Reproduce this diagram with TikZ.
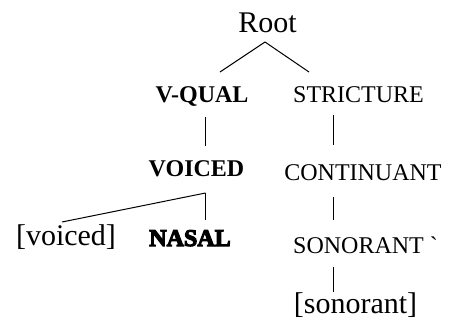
\documentclass[tikz,border=0pt]{standalone}
\usepackage{fontspec}
\setmainfont{Liberation Serif}
\newcommand{\heavytext}[1]{\special{pdf:literal direct 2 Tr 1.1 w}#1\special{pdf:literal direct 0 Tr}}
\begin{document}
\begin{tikzpicture}[x=1pt,y=-1pt,
  big/.style={font=\fontsize{30}{30}\selectfont, inner sep=0pt, anchor=base},
  capl/.style={font=\fontsize{24}{24}\selectfont, inner sep=0pt, anchor=base},
  bcapl/.style={font=\fontsize{24}{24}\selectfont\bfseries, inner sep=0pt, anchor=base},
  link/.style={line width=1pt}]
\useasboundingbox (0,0) rectangle (450,330);
\node[big] (root) at (267.5,32) {Root};
\node[bcapl] (vqual) at (202,102) {V-QUAL};
\node[capl] (stric) at (358.5,102) {STRICTURE};
\node[bcapl] (voiced) at (196.5,176) {VOICED};
\node[capl] (cont) at (363,180) {CONTINUANT};
\node[big] (vb) at (66,245) {[voiced]};
\node[bcapl] (nasal) at (190,246) {\heavytext{NASAL}};
\node[capl, anchor=base west] (son) at (293,253) {SONORANT \textasciigrave};
\node[big] (sb) at (355.5,313) {[sonorant]};
\draw[link] ([shift={(-2.5,10)}]root.base) -- ([shift={(18,-30)}]vqual.base);
\draw[link] ([shift={(-2.5,10)}]root.base) -- ([shift={(-49.5,-30)}]stric.base);
\draw[link] ([shift={(3.5,15)}]vqual.base) -- ([shift={(9,-30)}]voiced.base);
\draw[link] ([shift={(9,17)}]voiced.base) -- ([shift={(-4,-23)}]vb.base);
\draw[link] ([shift={(9,17)}]voiced.base) -- ([shift={(15.5,-26)}]nasal.base);
\draw[link] ([shift={(-25.5,13)}]stric.base) -- ([shift={(-30,-35)}]cont.base);
\draw[link] ([shift={(-30,17)}]cont.base) -- ([shift={(40,-33)}]son.base west);
\draw[link] ([shift={(40,14)}]son.base west) -- ([shift={(-22.5,-21)}]sb.base);
\end{tikzpicture}
\end{document}
